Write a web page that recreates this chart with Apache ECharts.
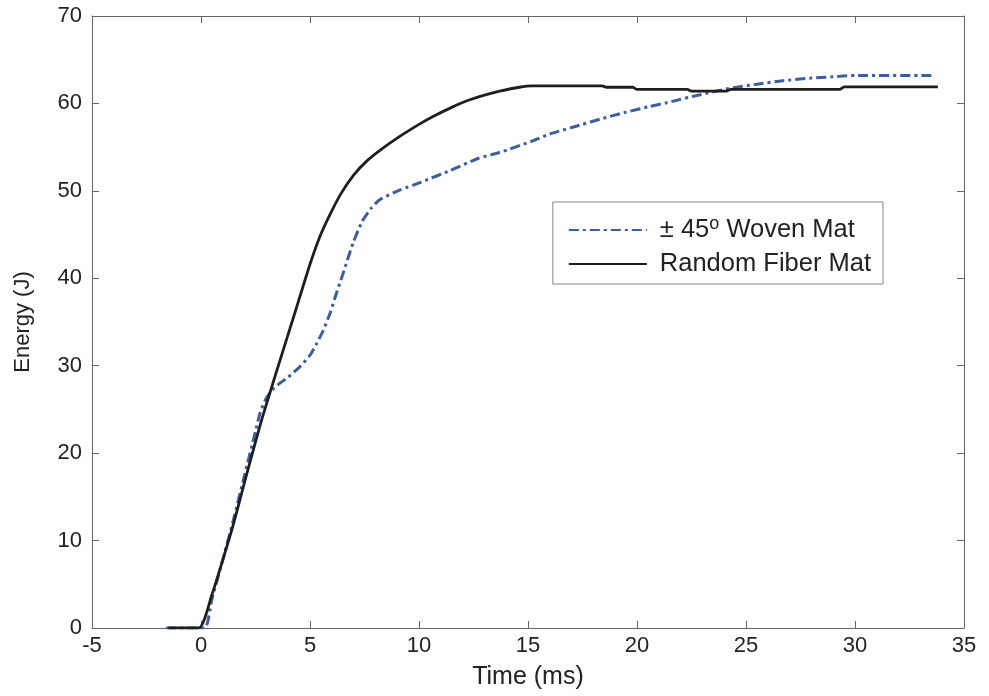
<!DOCTYPE html>
<html>
<head>
<meta charset="utf-8">
<script src="https://cdn.jsdelivr.net/npm/echarts@6/dist/echarts.min.js"></script>
<style>html,body{margin:0;padding:0;background:#fff}#c{width:989px;height:696px}</style>
</head>
<body>
<div id="c"></div>
<script>
const xTicks = [-5, 0, 5, 10, 15, 20, 25, 30, 35];
const yTicks = [0, 10, 20, 30, 40, 50, 60, 70];

const wovenTime   = [-1.6, 0.15, 0.5, 1.0, 1.5, 2.0, 2.5, 2.71, 3.0, 3.3, 3.62, 4.0, 4.54, 5.0, 5.32, 5.6, 5.92, 6.2, 6.51, 6.97, 7.39, 7.8, 8.21, 9.13, 10.1, 11.4, 12.7, 13.7, 15.2, 16.0, 17.5, 18.3, 19.5, 20.5, 21.4, 22.9, 24.4, 25.5, 26.7, 28.0, 29.3, 30.0, 33.6];
const wovenEnergy = [0, 0, 3.3, 7.8, 12.5, 17.5, 22.5, 24.6, 26.3, 27.3, 28.0, 28.7, 29.9, 31.2, 32.6, 34.0, 36.0, 38.2, 40.5, 44.0, 46.5, 48.0, 49.0, 50.1, 51.0, 52.3, 53.7, 54.4, 55.7, 56.5, 57.6, 58.2, 59.0, 59.6, 60.1, 61.0, 61.8, 62.2, 62.6, 62.9, 63.1, 63.2, 63.2];

const randomTime   = [-1.5, -0.1, 0.5, 1.0, 1.5, 2.0, 2.5, 2.84, 3.76, 4.4, 5.0, 5.46, 5.92, 6.4, 7.0, 7.6, 8.3, 9.1, 10.0, 10.6, 11.5, 12.2, 13.0, 13.7, 14.6, 15.2, 18.4, 18.6, 19.8, 20.0, 22.3, 22.5, 24.1, 24.3, 29.3, 29.5, 33.8];
const randomEnergy = [0, 0, 3.8, 7.8, 12.0, 16.7, 21.3, 24.3, 31.7, 36.8, 41.6, 44.8, 47.3, 49.6, 51.8, 53.4, 54.8, 56.2, 57.6, 58.45, 59.55, 60.3, 60.95, 61.4, 61.85, 62.0, 62.0, 61.85, 61.85, 61.6, 61.6, 61.4, 61.4, 61.6, 61.6, 61.9, 61.9];

const seriesNames = ['± 45° Woven Mat', 'Random Fiber Mat'];

const pairs = (xs, ys) => xs.map((x, i) => [x, ys[i]]);
const FONT = 'Liberation Sans, Arial, sans-serif';
const axisColor = '#666';
const textColor = '#222';

const chart = echarts.init(document.getElementById('c'), null, {renderer: 'canvas'});
const baseX = {
  type: 'value', min: xTicks[0], max: xTicks[xTicks.length - 1], interval: 5,
  splitLine: {show: false},
  axisLine: {show: true, onZero: false, lineStyle: {color: axisColor, width: 1}},
  axisTick: {show: true, inside: true, length: 7, lineStyle: {color: axisColor}}
};
const baseY = {
  type: 'value', min: yTicks[0], max: yTicks[yTicks.length - 1], interval: 10,
  splitLine: {show: false},
  axisLine: {show: true, onZero: false, lineStyle: {color: axisColor, width: 1}},
  axisTick: {show: true, inside: true, length: 7, lineStyle: {color: axisColor}}
};
chart.setOption({
  animation: false,
  backgroundColor: '#fff',
  grid: {left: 92, top: 16, width: 872, height: 612, containLabel: false},
  legend: {
    right: 106, top: 202,
    orient: 'vertical',
    backgroundColor: '#fff',
    borderColor: '#888', borderWidth: 1,
    padding: [13, 12, 7, 15],
    itemWidth: 78, itemHeight: 14, itemGap: 8,
    itemStyle: {opacity: 0},
    data: seriesNames,
    formatter: function (name) {
      if (name === seriesNames[0]) return '{t|± 45}{s|o}{t| Woven Mat}';
      return '{t|' + name + '}';
    },
    textStyle: {
      fontFamily: FONT, fontSize: 25.5, color: textColor, padding: [0, 0, 0, 8],
      rich: {
        t: {fontFamily: FONT, fontSize: 25.5, color: textColor},
        s: {fontFamily: FONT, fontSize: 18, color: textColor, verticalAlign: 'top', padding: [0, 0, 12, 0]}
      }
    }
  },
  xAxis: [
    Object.assign({}, baseX, {
      position: 'bottom',
      name: 'Time (ms)', nameLocation: 'middle', nameGap: 37,
      nameTextStyle: {fontFamily: FONT, fontSize: 25, color: textColor},
      axisLabel: {show: true, margin: 7, fontFamily: FONT, fontSize: 22, color: textColor}
    }),
    Object.assign({}, baseX, {position: 'top', axisLabel: {show: false}})
  ],
  yAxis: [
    Object.assign({}, baseY, {
      position: 'left',
      name: 'Energy (J)', nameLocation: 'middle', nameGap: 58,
      nameTextStyle: {fontFamily: FONT, fontSize: 22, color: textColor},
      axisLabel: {show: true, margin: 10, fontFamily: FONT, fontSize: 22, color: textColor}
    }),
    Object.assign({}, baseY, {position: 'right', axisLabel: {show: false}})
  ],
  series: [
    {
      name: seriesNames[0], type: 'line', data: pairs(wovenTime, wovenEnergy),
      xAxisIndex: 0, yAxisIndex: 0,
      showSymbol: false, symbol: 'none', smooth: 0.2,
      lineStyle: {color: '#3b5f9e', width: 3, type: [10, 4, 3, 4]},
      itemStyle: {color: '#3b5f9e'}
    },
    {
      name: seriesNames[1], type: 'line', data: pairs(randomTime, randomEnergy),
      xAxisIndex: 0, yAxisIndex: 0,
      showSymbol: false, symbol: 'none', smooth: 0.2,
      lineStyle: {color: '#1e1e1e', width: 2.8},
      itemStyle: {color: '#1e1e1e'}
    }
  ]
});
</script>
</body>
</html>
